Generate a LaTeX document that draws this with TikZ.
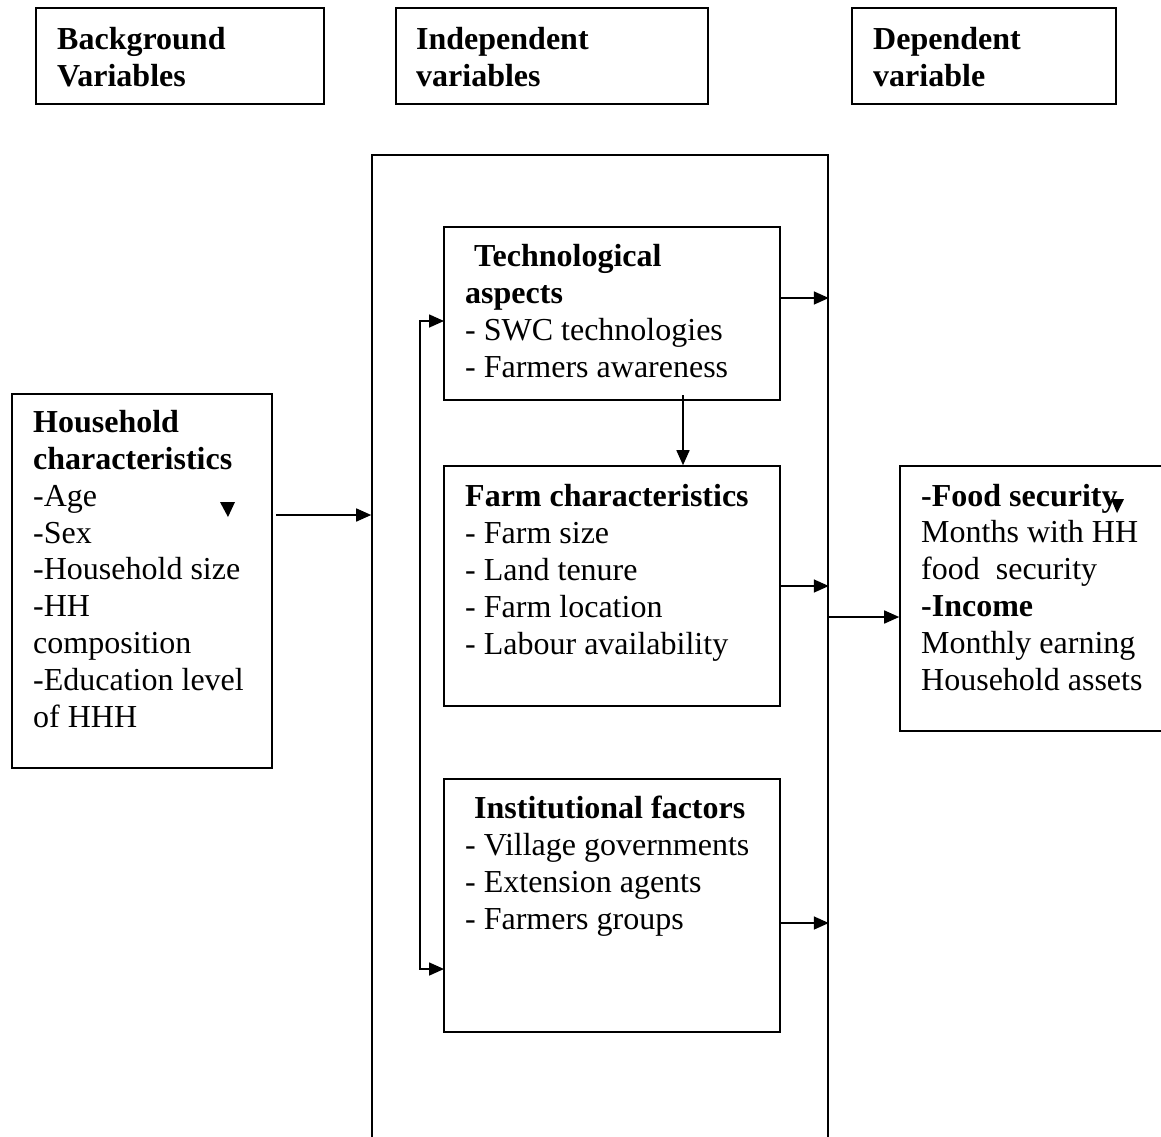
\documentclass[tikz,border=0pt]{standalone}
\usepackage{fontspec}
\setmainfont{Liberation Serif}
\usetikzlibrary{positioning}
\usetikzlibrary{arrows.meta}
\tikzset{
    mybox/.style = {rectangle, draw=black, line width=1.6pt, inner sep=0pt},
    mytext/.style = {anchor=base west, align=left, inner sep=0pt, font=\fontsize{32}{36.8}\selectfont},
    mytextb/.style = {mytext, font=\fontsize{32}{36.8}\selectfont\bfseries},
    edgea/.style = {-{Triangle[length=15pt,width=13pt]}, line width=1.6pt, black},
    edgeab/.style = {{Triangle[length=15pt,width=13pt]}-{Triangle[length=15pt,width=13pt]}, line width=1.6pt, black},
    tipdown/.style = {fill=black}
}

\begin{document}
\begin{tikzpicture}[x=1pt,y=-1pt]
\useasboundingbox (0,0) rectangle (1161,1136);
%
\node[mybox, minimum width=288pt, minimum height=96pt] at (180,56) (bgvar) {};
\node[mybox, minimum width=312pt, minimum height=96pt] at (552,56) (indvar) {};
\node[mybox, minimum width=264pt, minimum height=96pt] at (984,56) (depvar) {};
% text nodes sit on the baseline of their last line
\node[mytextb] at (57,86) (bgtxt) {Background\\Variables};
\node[mytextb] at (416,86) (indtxt) {Independent\\variables};
\node[mytextb] at (873,86) (deptxt) {Dependent\\variable};
%
\node[mybox, minimum width=456pt, minimum height=1005pt] at (600,657.5) (bigbox) {};
\node[mybox, minimum width=336pt, minimum height=173pt] at (612,313.5) (tech) {};
\node[mybox, minimum width=336pt, minimum height=240pt] at (612,586) (farm) {};
\node[mybox, minimum width=336pt, minimum height=253pt] at (612,905.5) (inst) {};
\node[mybox, minimum width=260pt, minimum height=374pt] at (142,581) (house) {};
\node[mybox, minimum width=275pt, minimum height=265pt] at (1037.5,598.5) (food) {};
%
\node[mytext] at (465,377) (techtxt) {\textbf{\hspace*{9pt}Technological}\\\textbf{aspects}\\- SWC technologies\\- Farmers awareness};
\node[mytext] at (465,654) (farmtxt) {\textbf{Farm characteristics}\\- Farm size\\- Land tenure\\- Farm location\\- Labour availability};
\node[mytext] at (465,929) (insttxt) {\textbf{\hspace*{9pt}Institutional factors}\\- Village governments\\- Extension agents\\- Farmers groups};
\node[mytext] at (33,727) (housetxt) {\textbf{Household}\\\textbf{characteristics}\\-Age\\-Sex\\-Household size\\-HH\\composition\\-Education level\\of HHH};
\node[mytext] at (921,690) (foodtxt) {\textbf{-Food security}\\Months with HH\\food\ \ security\\\textbf{-Income}\\Monthly earning\\Household assets};
%
\fill[tipdown] (220,502) -- (235,502) -- (228,517) -- cycle;
\fill[tipdown] (1111,499) -- (1124,499) -- (1117,513) -- cycle;
%
\coordinate (h1) at (276,515);
\coordinate (t1) at ([yshift=15.5pt]tech.east);
\coordinate (i1) at ([yshift=-17.5pt]inst.east);
\coordinate (b1) at (828,617);
\coordinate (d1) at (683,395);
\coordinate (l1) at (444,321);
\coordinate (l2) at (444,969);
%
\draw[edgea] (h1) -- (h1 -| bigbox.west);
\draw[edgea] (t1) -- (t1 -| bigbox.east);
\draw[edgea] (farm.east) -- (farm.east -| bigbox.east);
\draw[edgea] (i1) -- (i1 -| bigbox.east);
\draw[edgea] (b1) -- (b1 -| food.west);
\draw[edgea] (d1) -- (d1 |- farm.north);
\draw[edgeab] (l1) -- ++(-24,0) |- (l2);
\end{tikzpicture}
\end{document}
